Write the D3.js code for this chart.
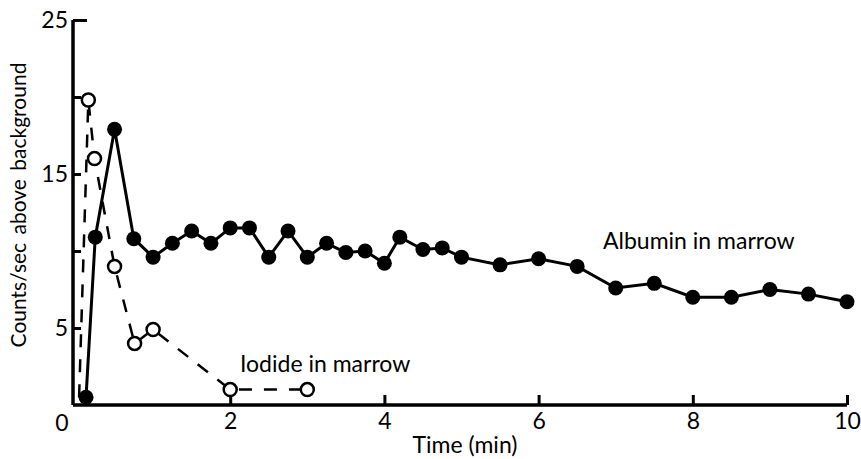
<!DOCTYPE html>
<html>
<head>
<meta charset="utf-8">
<script src="https://cdn.jsdelivr.net/npm/d3@7"></script>
<style>
  body { margin: 0; background: #fff; }
  text { font-family: Lato, "Open Sans", sans-serif; fill: #000; }
</style>
</head>
<body>
<svg id="chart" width="861" height="459"></svg>
<script>
// albumin in marrow (filled circles)
let albuminTime = [0.13, 0.25, 0.5, 0.75, 1, 1.25, 1.5, 1.75, 2, 2.25, 2.5, 2.75, 3, 3.25, 3.5, 3.75, 4, 4.2, 4.5, 4.75, 5, 5.5, 6, 6.5, 7, 7.5, 8, 8.5, 9, 9.5, 10]
let albuminCounts = [0.5, 10.9, 17.9, 10.8, 9.6, 10.5, 11.3, 10.5, 11.5, 11.5, 9.6, 11.3, 9.6, 10.5, 9.9, 10.0, 9.2, 10.9, 10.1, 10.2, 9.6, 9.1, 9.5, 9.0, 7.6, 7.9, 7.0, 7.0, 7.5, 7.2, 6.7]

// iodide in marrow (open circles, dashed)
let iodideTime = [0.04, 0.16, 0.24, 0.5, 0.76, 1, 2, 3]
let iodideCounts = [0.5, 19.8, 16.0, 9.0, 4.0, 4.9, 1.0, 1.0]

let xTicks = [2, 4, 6, 8, 10]
let yTicks = [5, 10, 15, 20, 25]
let yTickLabels = [5, 15, 25]

let svg = d3.select("#chart")

let x = d3.scaleLinear().domain([0, 10]).range([76, 847])
let y = d3.scaleLinear().domain([0, 25]).range([405, 20])

let albumin = albuminTime.map((t, i) => ({t: t, v: albuminCounts[i]}))
let iodide = iodideTime.map((t, i) => ({t: t, v: iodideCounts[i]}))

let line = d3.line().x(d => x(d.t)).y(d => y(d.v))

// axes
let xAxis = d3.axisBottom(x)
  .tickValues(xTicks)
  .tickSizeInner(-10)
  .tickSizeOuter(0)
  .tickPadding(8)
  .tickFormat(d3.format("d"))

let gx = svg.append("g")
  .attr("transform", "translate(0," + y(0) + ")")
  .call(xAxis)
gx.select(".domain").attr("d", "M" + (x(0) - 3) + ",0H" + x(10)).attr("stroke-width", 3.5)
gx.selectAll(".tick line").attr("stroke-width", 3)
gx.selectAll(".tick text").attr("font-size", 23).attr("font-family", "Lato")

let yAxis = d3.axisLeft(y)
  .tickValues(yTicks)
  .tickSizeInner(-8)
  .tickSizeOuter(0)
  .tickPadding(5)
  .tickFormat(d => yTickLabels.includes(d) ? d : "")

let gy = svg.append("g")
  .attr("transform", "translate(" + (x(0) - 3) + ",0)")
  .call(yAxis)
gy.select(".domain").attr("d", "M0," + y(0) + "V" + y(25)).attr("stroke-width", 3.5)
gy.selectAll(".tick line").attr("stroke-width", 3)
  .attr("x2", d => d === 25 ? 14 : 8)
gy.selectAll(".tick text").attr("font-size", 23).attr("font-family", "Lato")

// origin label
svg.append("text")
  .attr("x", x(0) - 14)
  .attr("y", y(0) + 26)
  .attr("text-anchor", "middle")
  .attr("font-size", 23)
  .text("0")

// iodide
svg.append("path")
  .datum(iodide)
  .attr("d", line)
  .attr("fill", "none")
  .attr("stroke", "#000")
  .attr("stroke-width", 2.5)
  .attr("stroke-dasharray", "13,12")

svg.selectAll(".iod")
  .data(iodide.slice(1))
  .enter()
  .append("circle")
  .attr("class", "iod")
  .attr("cx", d => x(d.t))
  .attr("cy", d => y(d.v))
  .attr("r", 6.5)
  .attr("fill", "#fff")
  .attr("stroke", "#000")
  .attr("stroke-width", 2.5)

// albumin
svg.append("path")
  .datum(albumin)
  .attr("d", line)
  .attr("fill", "none")
  .attr("stroke", "#000")
  .attr("stroke-width", 3)

svg.selectAll(".alb")
  .data(albumin)
  .enter()
  .append("circle")
  .attr("class", "alb")
  .attr("cx", d => x(d.t))
  .attr("cy", d => y(d.v))
  .attr("r", 7.5)
  .attr("fill", "#000")

// labels
svg.append("text")
  .attr("x", 603)
  .attr("y", 249)
  .attr("font-size", 23)
  .text("Albumin in marrow")

svg.append("text")
  .attr("x", 240)
  .attr("y", 372)
  .attr("font-size", 23)
  .text("Iodide in marrow")

svg.append("text")
  .attr("x", 465)
  .attr("y", 453)
  .attr("text-anchor", "middle")
  .attr("font-size", 23)
  .text("Time (min)")

svg.append("text")
  .attr("transform", "translate(26,205) rotate(-90)")
  .attr("text-anchor", "middle")
  .attr("font-size", 21)
  .attr("word-spacing", 3)
  .text("Counts/sec above background")
</script>
</body>
</html>
